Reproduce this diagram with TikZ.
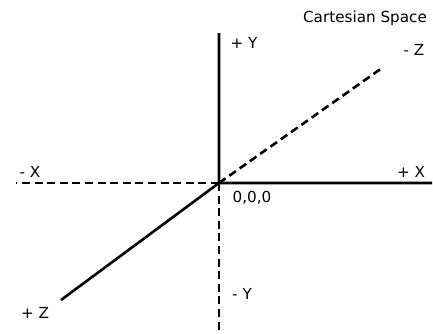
\documentclass[tikz,border=0pt]{standalone}
\usepackage{fontspec}
\setmainfont{DejaVu Sans}
\begin{document}
\begin{tikzpicture}[x=1pt,y=1pt,font=\fontsize{15.2}{17}\selectfont,
  axis/.style={line width=2.6pt},
  negaxis/.style={line width=2.6pt,dash pattern=on 8pt off 4.6pt},
  lbl/.style={inner sep=0pt}]
 \useasboundingbox (0,0) rectangle (433,333);
 \coordinate (o) at (219,150);
 \coordinate (py) at (219,300); \coordinate (ny) at (219,0);
 \coordinate (px) at (432,150); \coordinate (nx) at (16,150);
 \coordinate (pz) at (61,33);   \coordinate (nz) at (382,265);
 \draw[axis] (o)--(py) (o)--(px) (o)--(pz);
 \draw[negaxis] (o)--(ny);
 \draw[negaxis] (o)--(nx);
 \draw[negaxis] (o)--(nz);
 \node[lbl] (title) at (365,315) {Cartesian Space};
 \node[lbl] (lpy) at (244,290) {+ Y};
 \node[lbl] (lny) at (242,39) {- Y};
 \node[lbl] (lpx) at (411,161) {+ X};
 \node[lbl] (lnx) at (30,161) {- X};
 \node[lbl] (lnz) at (414,283) {- Z};
 \node[lbl] (lpz) at (35,20) {+ Z};
 \node[lbl] (lo) at (252,135) {0,0,0};
\end{tikzpicture}
\end{document}
